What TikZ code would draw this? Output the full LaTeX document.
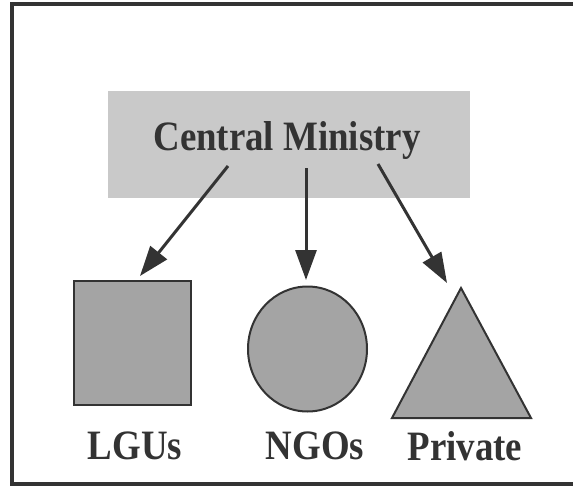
\documentclass[tikz,border=0pt]{standalone}
\usepackage{fontspec}
\usepackage{graphicx}
\setmainfont{Liberation Serif}
\usetikzlibrary{arrows.meta}
\definecolor{shapefill}{HTML}{A4A4A4}
\definecolor{boxfill}{HTML}{C9C9C9}
\definecolor{ink}{HTML}{333333}
\newcommand{\tallt}[1]{\scalebox{0.97}[1.1]{#1}}
\begin{document}
\begin{tikzpicture}[x=1pt,y=-1pt,
  lbl/.style={font=\fontsize{38}{40}\selectfont\bfseries, text=ink, inner sep=0pt},
  conn/.style={draw=ink, line width=3pt, -{Triangle[length=30pt,width=21pt]}},
  shp/.style={fill=shapefill, draw=ink, line width=2pt}]
\useasboundingbox (0,0) rectangle (573,487);
\draw[ink, line width=4pt] (12,4) rectangle (590,484);
\node[fill=boxfill, minimum width=362pt, minimum height=107pt, inner sep=0pt] (cm) at (289,144) {};
\node[lbl] (cmt) at (287,141) {\tallt{Central Ministry}};
\draw[shp] (74,281) rectangle (191,405);
\coordinate (sq) at (132.5,343);
\draw[shp] (307.5,349) ellipse [x radius=59.5pt, y radius=62.5pt];
\coordinate (ci) at (307.5,349);
\draw[shp] (461,288) -- (531,418) -- (392,418) -- cycle;
\coordinate (tr) at (461,288);
\coordinate (s1) at (228,166);
\coordinate (s2) at (306,168);
\coordinate (s3) at (378,164);
\coordinate (t1) at (140,276);
\coordinate (t2) at (306,280);
\coordinate (t3) at (447,283);
\draw[conn] (s1) -- (t1);
\draw[conn] (s2) -- (t2);
\draw[conn] (s3) -- (t3);
\node[lbl] (lgu) at (135,446) {\tallt{LGUs}};
\node[lbl] (ngo) at (315,446) {\tallt{NGOs}};
\node[lbl] (pri) at (465,446) {\tallt{Private}};
\end{tikzpicture}
\end{document}
